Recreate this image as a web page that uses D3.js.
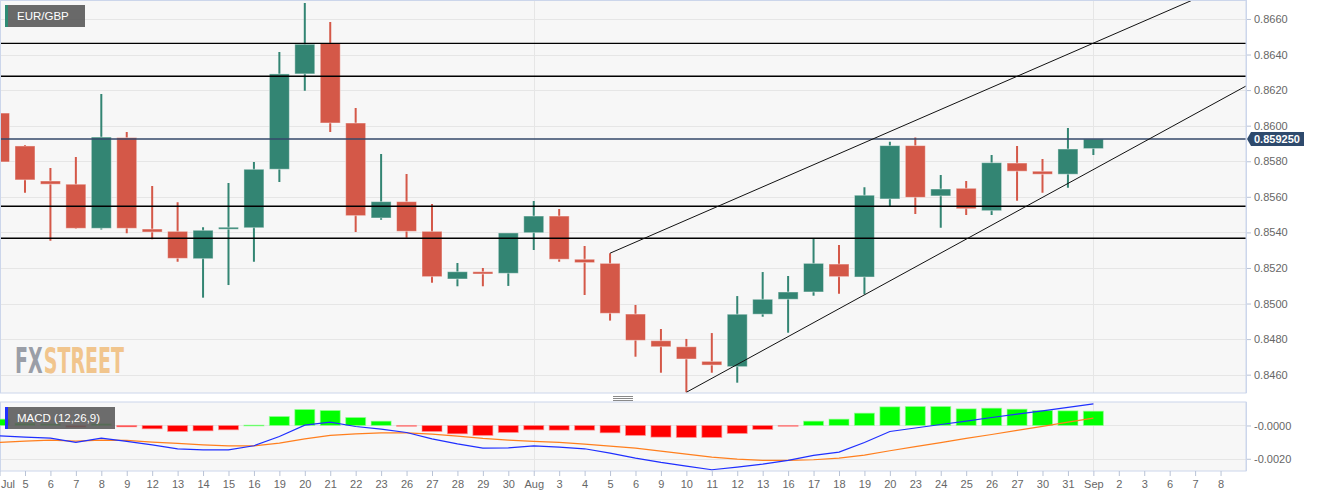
<!DOCTYPE html>
<html><head><meta charset="utf-8">
<script src="https://cdn.jsdelivr.net/npm/d3@7"></script>
<style>html,body{margin:0;padding:0;background:#fff;overflow:hidden}</style>
</head><body><svg id="c" width="1323" height="497"></svg>
<script>
// ---------- DATA ----------
const dates = ["Jul","5","6","7","8","9","12","13","14","15","16","19","20","21","22","23","26","27","28","29","30","Aug","3","4","5","6","9","10","11","12","13","16","17","18","19","20","23","24","25","26","27","30","31","Sep","2","3","6","7","8"];
const open  = [0.86071,0.85886,0.85689,0.85671,0.85423,0.85933,0.85419,0.85406,0.85252,0.85418,0.85426,0.85755,0.86291,0.86463,0.86015,0.85481,0.85573,0.85406,0.85138,0.85179,0.85170,0.85398,0.85492,0.85249,0.85226,0.84941,0.84791,0.84757,0.84675,0.84645,0.84940,0.85024,0.85065,0.85222,0.85149,0.85588,0.85888,0.85605,0.85648,0.85522,0.85790,0.85744,0.85727,0.85871];
const high  = [0.86116,0.85891,0.85762,0.85824,0.86178,0.85965,0.85661,0.85569,0.85429,0.85678,0.85796,0.86414,0.86690,0.86583,0.86100,0.85841,0.85728,0.85560,0.85228,0.85200,0.85397,0.85577,0.85532,0.85324,0.85283,0.84992,0.84857,0.84801,0.84834,0.85042,0.85177,0.85155,0.85365,0.85329,0.85654,0.85910,0.85933,0.85723,0.85689,0.85835,0.85886,0.85813,0.85987,0.85925];
const low   = [0.85740,0.85623,0.85353,0.85420,0.85416,0.85395,0.85361,0.85235,0.85033,0.85104,0.85235,0.85683,0.86197,0.85965,0.85402,0.85471,0.85370,0.85117,0.85097,0.85097,0.85099,0.85301,0.85235,0.85048,0.84904,0.84701,0.84611,0.84501,0.84611,0.84555,0.84926,0.84836,0.85044,0.85055,0.85052,0.85548,0.85504,0.85426,0.85498,0.85498,0.85578,0.85623,0.85651,0.85835];
const close = [0.85796,0.85695,0.85671,0.85423,0.85936,0.85423,0.85402,0.85254,0.85412,0.85429,0.85755,0.86291,0.86458,0.86015,0.85494,0.85573,0.85406,0.85151,0.85179,0.85166,0.85397,0.85492,0.85249,0.85230,0.84945,0.84793,0.84757,0.84688,0.84654,0.84940,0.85024,0.85065,0.85226,0.85151,0.85609,0.85888,0.85597,0.85644,0.85533,0.85792,0.85744,0.85727,0.85869,0.85925];

const macdLine   = [-0.00062,-0.0007,-0.00076,-0.00102,-0.00076,-0.00096,-0.00116,-0.0014,-0.00146,-0.00146,-0.00122,-0.00066,0.00002,0.0002,-0.00006,-0.00022,-0.00042,-0.0008,-0.0011,-0.00136,-0.00134,-0.00122,-0.0013,-0.0014,-0.00166,-0.00196,-0.00222,-0.00244,-0.00266,-0.0025,-0.00232,-0.0021,-0.0018,-0.0016,-0.00102,-0.00036,-0.00015,0.00006,0.00026,0.00048,0.00068,0.00088,0.00109,0.0013];
const signalLine = [-0.00102,-0.00094,-0.00088,-0.00094,-0.00088,-0.0009,-0.001,-0.00108,-0.00116,-0.00122,-0.00122,-0.00106,-0.0008,-0.0006,-0.0005,-0.00044,-0.00044,-0.00052,-0.00064,-0.00078,-0.00088,-0.00096,-0.00102,-0.00112,-0.00124,-0.00136,-0.00154,-0.00172,-0.0019,-0.00202,-0.0021,-0.0021,-0.00206,-0.00196,-0.00178,-0.00152,-0.00127,-0.00103,-0.00078,-0.00054,-0.00029,-0.00005,0.0002,0.00044];
const histogram  = [0.00038,0.00014,0.0001,-0.0001,0.0001,-0.00008,-0.0002,-0.00036,-0.00032,-0.00026,0.00002,0.00054,0.00096,0.0009,0.00048,0.00026,-0.00002,-0.00036,-0.0005,-0.0006,-0.00042,-0.00026,-0.00028,-0.00028,-0.00044,-0.0006,-0.0007,-0.00072,-0.00072,-0.00048,-0.00024,-0.00003,0.00026,0.00038,0.00074,0.00112,0.00114,0.00114,0.001,0.00104,0.00098,0.0009,0.00088,0.00086];

const levels = [0.86463, 0.86278, 0.85547, 0.85367];
const lastPrice = 0.85925;
const lastPriceLabel = "0.859250";
const priceTicks = [0.846,0.848,0.850,0.852,0.854,0.856,0.858,0.860,0.862,0.864,0.866];
const macdTicks = [0, -0.002];
const macdTickLabels = ["-0.0000","-0.0020"];
const monthStarts = [21, 43];
const upperTrend = [[24,0.85283],[49,0.86837]];
const lowerTrend = [[27,0.84501],[49,0.86223]];
const symbol = "EUR/GBP";
const macdTitle = "MACD (12,26,9)";
const logoParts = ["FX","STREET"];

// ---------- LAYOUT ----------
const svg = d3.select("#c");
const L = 0.5, R = 1246, T = 0.5, B = 393;
const MT = 402, MB = 471;
const x = d3.scaleLinear().domain([0,49]).range([-0.45,1246]);
const y = d3.scaleLinear().domain([0.84497,0.86701]).range([393,1]);
const ym = d3.scaleLinear().domain([-0.002735,0.001411]).range([471,402]);
const GREEN = "#338573", RED = "#d45848";
const gridC = "#e6e6e6", frameC = "#ccd6eb", txtC = "#666";
const FONT = "Liberation Sans, Arial, sans-serif";

const defs = svg.append("defs");
defs.append("clipPath").attr("id","cm").append("rect").attr("x",0).attr("y",T).attr("width",R).attr("height",B-T);
defs.append("clipPath").attr("id","cmacd").append("rect").attr("x",0).attr("y",MT).attr("width",R).attr("height",MB-MT);

// backgrounds
svg.append("rect").attr("x",L).attr("y",T).attr("width",R-L).attr("height",B-T).attr("fill","#f7f7f7");
svg.append("rect").attr("x",L).attr("y",MT).attr("width",R-L).attr("height",MB-MT).attr("fill","#f7f7f7");

// grid main
const gm = svg.append("g");
gm.selectAll("line.h").data(priceTicks).join("line")
  .attr("x1",0).attr("x2",R).attr("y1",d=>Math.round(y(d))+0.5).attr("y2",d=>Math.round(y(d))+0.5)
  .attr("stroke",gridC).attr("stroke-width",1);
gm.selectAll("line.v").data(monthStarts).join("line")
  .attr("x1",d=>Math.round(x(d))+0.5).attr("x2",d=>Math.round(x(d))+0.5).attr("y1",T).attr("y2",B)
  .attr("stroke",gridC);
// grid macd
const gmm = svg.append("g");
gmm.selectAll("line").data(macdTicks).join("line")
  .attr("x1",0).attr("x2",R).attr("y1",d=>Math.round(ym(d))+0.5).attr("y2",d=>Math.round(ym(d))+0.5)
  .attr("stroke",gridC);
gmm.selectAll("line.v").data(monthStarts).join("line")
  .attr("x1",d=>Math.round(x(d))+0.5).attr("x2",d=>Math.round(x(d))+0.5).attr("y1",MT).attr("y2",MB)
  .attr("stroke",gridC);

// logo: natural-width texts, then the group is squeezed horizontally to the original width
const logo = svg.append("g");
const t1 = logo.append("text").attr("x",0).attr("y",0).text(logoParts[0])
  .attr("font-family","DejaVu Sans Condensed, DejaVu Sans").attr("font-weight","bold").attr("font-size",36).attr("fill","#9a9ea7");
const w1 = t1.node().getComputedTextLength();
const t2 = logo.append("text").attr("x",w1+2).attr("y",0).text(logoParts[1])
  .attr("font-family","DejaVu Sans Condensed, DejaVu Sans").attr("font-weight","bold").attr("font-size",36).attr("fill","#f1c58d");
const w2 = t2.node().getComputedTextLength();
const sx = 109/(w1+2+w2);
logo.attr("transform",`translate(15,373) scale(${sx},1)`);

// candles
const data = open.map((o,i)=>({i,o,h:high[i],l:low[i],c:close[i]}));
const cg = svg.append("g").attr("clip-path","url(#cm)");
cg.selectAll("line.w").data(data).join("line")
  .attr("x1",d=>x(d.i)).attr("x2",d=>x(d.i)).attr("y1",d=>y(d.h)).attr("y2",d=>y(d.l))
  .attr("stroke",d=>d.c>=d.o?GREEN:RED).attr("stroke-width",2);
cg.selectAll("rect.b").data(data).join("rect")
  .attr("x",d=>x(d.i)-10).attr("width",20)
  .attr("y",d=>y(Math.max(d.o,d.c)))
  .attr("height",d=>Math.max(2,Math.abs(y(d.o)-y(d.c))))
  .attr("fill",d=>d.c>=d.o?GREEN:RED)
  .attr("stroke","rgba(255,255,255,0.45)").attr("stroke-width",1);

// level lines
const lg = svg.append("g").attr("clip-path","url(#cm)");
lg.selectAll("line").data(levels).join("line")
  .attr("x1",0).attr("x2",R).attr("y1",d=>y(d)).attr("y2",d=>y(d))
  .attr("stroke","#000").attr("stroke-width",1.3);
lg.append("line").attr("x1",0).attr("x2",R).attr("y1",y(lastPrice)).attr("y2",y(lastPrice))
  .attr("stroke","#34496a").attr("stroke-width",1.3);
// trend lines
const tl = d3.line().x(d=>x(d[0])).y(d=>y(d[1]));
[upperTrend, lowerTrend].forEach(t=>{
  lg.append("path").attr("d",tl(t)).attr("fill","none").attr("stroke","#111").attr("stroke-width",1);
});

// frames
svg.append("rect").attr("x",L).attr("y",T).attr("width",R-L).attr("height",B-T).attr("fill","none").attr("stroke",frameC);
svg.append("rect").attr("x",L).attr("y",MT).attr("width",R-L).attr("height",MB-MT).attr("fill","none").attr("stroke",frameC);

// price axis
const ax = svg.append("g").attr("transform",`translate(${R},0)`)
  .call(d3.axisRight(y).tickValues(priceTicks).tickFormat(d3.format(".4f")).tickSize(5).tickPadding(3));
ax.select(".domain").remove();
ax.selectAll("line").attr("stroke","#b9c3d6");
ax.selectAll("text").attr("fill",txtC).attr("font-family",FONT).attr("font-size",11);

// last price label
const lp = y(lastPrice);
svg.append("path")
  .attr("d",`M${R+1},${lp} L${R+5},${lp-7} L${R+58},${lp-7} L${R+58},${lp+7} L${R+5},${lp+7} Z`)
  .attr("fill","#2e4a6d");
svg.append("text").attr("x",R+8).attr("y",lp).attr("dy","0.36em").text(lastPriceLabel)
  .attr("fill","#fff").attr("font-weight","bold").attr("font-family",FONT).attr("font-size",11);

// MACD histogram
const mg = svg.append("g").attr("clip-path","url(#cmacd)");
mg.selectAll("rect").data(histogram.map((v,i)=>({v,i}))).join("rect")
  .attr("x",d=>x(d.i)-10).attr("width",20)
  .attr("y",d=>Math.min(ym(0),ym(d.v)))
  .attr("height",d=>Math.max(0.8,Math.abs(ym(d.v)-ym(0))))
  .attr("fill",d=>d.v>=0?"#00ff00":"#ff0000")
  .attr("stroke",d=>d.v>=0?"rgba(150,255,150,0.6)":"rgba(255,150,150,0.6)").attr("stroke-width",1);
const ml = d3.line().x((d,i)=>x(i)).y(d=>ym(d));
mg.append("path").attr("d",ml(signalLine)).attr("fill","none").attr("stroke","#ff7f1e").attr("stroke-width",1.2);
mg.append("path").attr("d",ml(macdLine)).attr("fill","none").attr("stroke","#1f2fff").attr("stroke-width",1.2);

// MACD axis
const max = svg.append("g").attr("transform",`translate(${R},0)`)
  .call(d3.axisRight(ym).tickValues(macdTicks).tickFormat((d,i)=>macdTickLabels[i]).tickSize(5).tickPadding(3));
max.select(".domain").remove();
max.selectAll("line").attr("stroke","#b9c3d6");
max.selectAll("text").attr("fill",txtC).attr("font-family",FONT).attr("font-size",11);
svg.append("line").attr("x1",R+0.5).attr("x2",R+0.5).attr("y1",0).attr("y2",B).attr("stroke",frameC);
svg.append("line").attr("x1",R+0.5).attr("x2",R+0.5).attr("y1",MT).attr("y2",MB).attr("stroke",frameC);

// bottom axis
const bx = svg.append("g").attr("transform",`translate(0,${MB})`)
  .call(d3.axisBottom(x).tickValues(d3.range(dates.length)).tickFormat(i=>dates[i]).tickSize(5).tickPadding(4));
bx.select(".domain").remove();
bx.selectAll("line").attr("stroke","#b9c3d6");
bx.selectAll("text").attr("fill",txtC).attr("font-family",FONT).attr("font-size",11);
bx.selectAll(".tick").filter(d=>d===0).select("text")
  .attr("text-anchor","start").attr("x",-x(0)+0.5);

// separator handle
svg.append("g").selectAll("line").data([396.5,398.5,400.5]).join("line")
  .attr("x1",613).attr("x2",633).attr("y1",d=>d).attr("y2",d=>d).attr("stroke","#8a8a8a").attr("stroke-width",1);

// legends
const l1 = svg.append("g");
l1.append("rect").attr("x",5).attr("y",5).attr("width",80).attr("height",22).attr("fill","#5c5c5c").attr("opacity",0.92);
l1.append("rect").attr("x",5).attr("y",5).attr("width",3).attr("height",22).attr("fill","#2e8b74");
l1.append("text").attr("x",17).attr("y",16).attr("dy","0.36em").text(symbol)
  .attr("fill","#fff").attr("font-family",FONT).attr("font-size",11.5);
const l2 = svg.append("g");
l2.append("rect").attr("x",5).attr("y",407).attr("width",110).attr("height",22).attr("fill","#5c5c5c").attr("opacity",0.9);
l2.append("rect").attr("x",5).attr("y",407).attr("width",3).attr("height",22).attr("fill","#1f2fff");
l2.append("text").attr("x",17).attr("y",418).attr("dy","0.36em").text(macdTitle)
  .attr("fill","#fff").attr("font-family",FONT).attr("font-size",11.5);
</script></body></html>
